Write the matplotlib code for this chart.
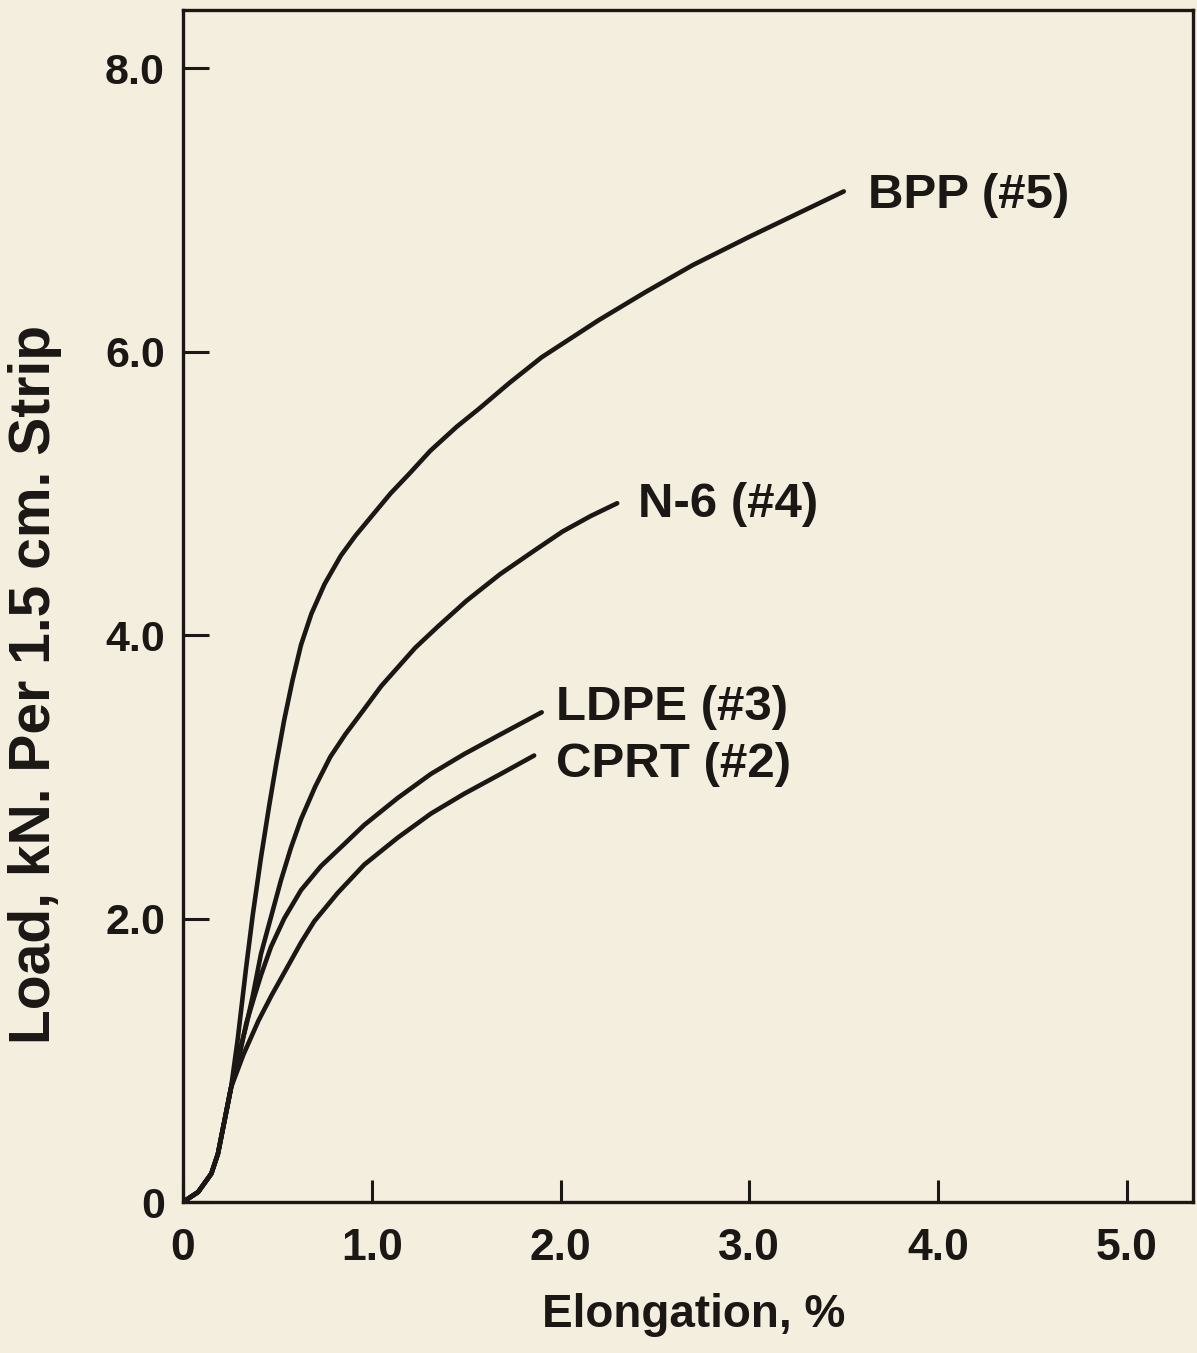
import matplotlib
matplotlib.use("Agg")
import matplotlib.pyplot as plt

plt.rcParams['font.family'] = ['Liberation Sans', 'DejaVu Sans']
plt.rcParams['font.weight'] = 'bold'

bpp_x = [0, 0.08, 0.15, 0.185, 0.22, 0.255, 0.29, 0.334, 0.37, 0.413, 0.457, 0.495, 0.536,
         0.58, 0.625, 0.68, 0.75, 0.836, 0.913, 1.00, 1.10, 1.20, 1.31, 1.45, 1.571, 1.73,
         1.90, 2.20, 2.45, 2.70, 3.00, 3.25, 3.50]
bpp_y = [0, 0.07, 0.20, 0.34, 0.575, 0.81, 1.15, 1.65, 2.03, 2.43, 2.80, 3.10, 3.40,
         3.68, 3.93, 4.15, 4.36, 4.56, 4.70, 4.84, 5.00, 5.14, 5.30, 5.47, 5.60, 5.78,
         5.96, 6.22, 6.42, 6.61, 6.81, 6.97, 7.13]

n6_x = [0, 0.08, 0.15, 0.185, 0.22, 0.255, 0.295, 0.334, 0.369, 0.413, 0.466, 0.519, 0.572,
        0.625, 0.70, 0.78, 0.86, 0.95, 1.05, 1.13, 1.23, 1.35, 1.50, 1.68, 1.86, 2.01,
        2.16, 2.30]
n6_y = [0, 0.07, 0.20, 0.34, 0.575, 0.81, 1.04, 1.24, 1.45, 1.75, 2.01, 2.27, 2.50,
        2.70, 2.93, 3.14, 3.30, 3.46, 3.64, 3.76, 3.91, 4.06, 4.24, 4.43, 4.595, 4.73,
        4.84, 4.93]

ldpe_x = [0, 0.08, 0.15, 0.185, 0.22, 0.255, 0.30, 0.335, 0.378, 0.413, 0.466, 0.536, 0.625,
          0.731, 0.85, 0.96, 1.137, 1.313, 1.489, 1.683, 1.90]
ldpe_y = [0, 0.07, 0.20, 0.34, 0.575, 0.81, 1.04, 1.26, 1.45, 1.60, 1.80, 2.00, 2.20,
          2.37, 2.52, 2.66, 2.85, 3.02, 3.16, 3.30, 3.455]

cprt_x = [0, 0.08, 0.15, 0.185, 0.22, 0.255, 0.32, 0.40, 0.47, 0.554, 0.625, 0.695, 0.819,
          0.96, 1.137, 1.313, 1.489, 1.683, 1.86]
cprt_y = [0, 0.07, 0.20, 0.34, 0.575, 0.81, 1.04, 1.28, 1.46, 1.66, 1.83, 1.98, 2.18,
          2.38, 2.57, 2.74, 2.88, 3.02, 3.15]

labels = ['BPP (#5)', 'N-6 (#4)', 'LDPE (#3)', 'CPRT (#2)']
label_pos = [(3.63, 7.10), (2.41, 4.92), (1.975, 3.49), (1.975, 3.09)]

xticks = [0, 1, 2, 3, 4, 5]
xticklabels = ['0', '1.0', '2.0', '3.0', '4.0', '5.0']
yticks = [0, 2, 4, 6, 8]
yticklabels = ['0', '2.0', '4.0', '6.0', '8.0']

bg = '#f3eedd'
ink = '#1a1714'

fig = plt.figure(figsize=(11.97, 13.53), dpi=100, facecolor=bg)
ax = fig.add_axes([183/1197, 1 - 1202/1353, (1193 - 183)/1197, (1202 - 10)/1353])
ax.set_facecolor(bg)

for xs, ys in [(bpp_x, bpp_y), (n6_x, n6_y), (ldpe_x, ldpe_y), (cprt_x, cprt_y)]:
    ax.plot(xs, ys, color=ink, lw=3.3, solid_capstyle='round', solid_joinstyle='round')

for lab, (lx, ly) in zip(labels, label_pos):
    ax.text(lx, ly, lab, ha='left', va='center', fontsize=35.5, fontweight='bold', color=ink)

ax.set_xlim(0, 5.35)
ax.set_ylim(0, 8.41)
ax.set_xticks(xticks)
ax.set_xticklabels(xticklabels)
ax.set_yticks(yticks)
ax.set_yticklabels(yticklabels)
ax.tick_params(axis='x', direction='in', length=16, width=2.2, pad=19, labelsize=32, colors=ink)
ax.tick_params(axis='y', direction='in', length=19, width=2.2, pad=13, labelsize=31, colors=ink)
for lbl in ax.get_xticklabels() + ax.get_yticklabels():
    lbl.set_fontweight('bold')
for sp in ax.spines.values():
    sp.set_linewidth(2.4)
    sp.set_color(ink)

fig.text(35/1197, 1 - 684/1353, 'Load, kN. Per 1.5 cm. Strip', rotation=90,
         ha='center', va='center', fontsize=41, fontweight='bold', color=ink)
fig.text(694/1197, 1 - 1315/1353, 'Elongation, %', ha='center', va='center',
         fontsize=33, fontweight='bold', color=ink)

fig.savefig('out.png', dpi=100, facecolor=bg)
